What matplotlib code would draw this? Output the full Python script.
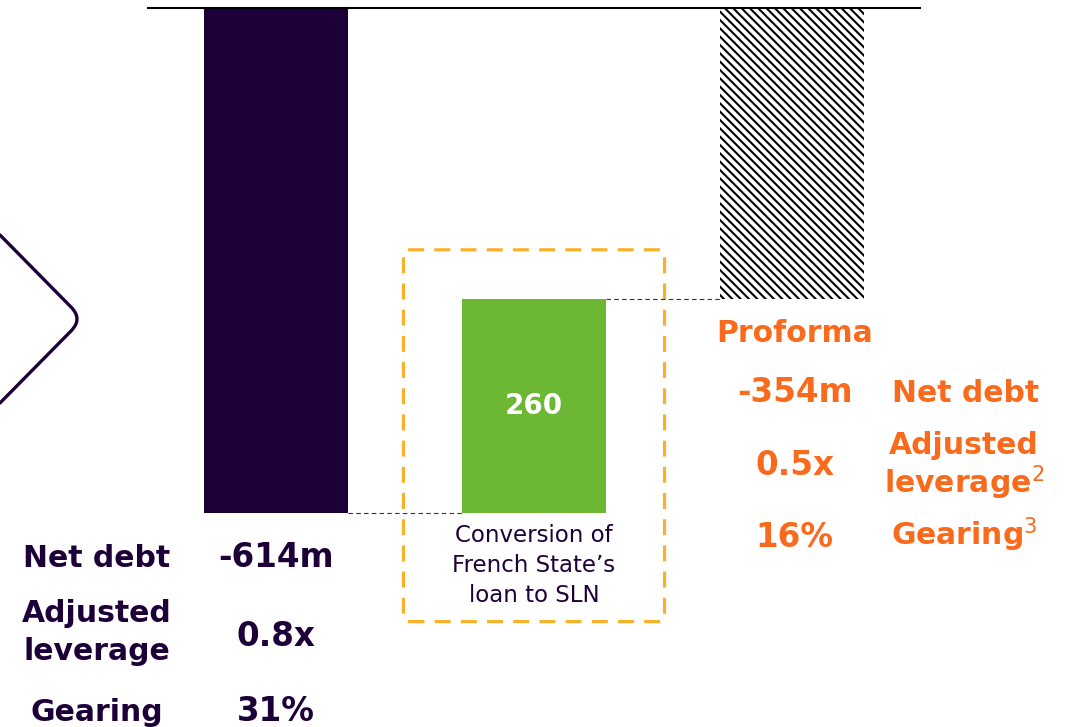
import matplotlib
matplotlib.use("Agg")
import matplotlib.pyplot as plt
from matplotlib.patches import FancyBboxPatch, PathPatch
from matplotlib.path import Path
from matplotlib.transforms import Affine2D, blended_transform_factory

W, H = 1068, 727

# waterfall (EUR m)
steps = [0, 1, 2]
step_names = ['Net debt', 'Conversion of\nFrench State\u2019s\nloan to SLN', 'Proforma']
net_debt_start = -614
conversion = 260
net_debt_proforma = -354

# side tables
left_labels = ['Net debt', 'Adjusted\nleverage', 'Gearing']
left_values = ['-614m', '0.8x', '31%']
right_labels = ['Net debt', 'Adjusted\nleverage$^{\\mathrm{2}}$', 'Gearing$^{\\mathrm{3}}$']
right_values = ['-354m', '0.5x', '16%']

DARK = '#1e0038'
GREEN = '#6cb733'
ORANGE = '#fa6a1c'
AMBER = '#fbb02a'

plt.rcParams['font.family'] = ['DejaVu Sans']
plt.rcParams['hatch.linewidth'] = 1.5

fig = plt.figure(figsize=(W / 100, H / 100), dpi=100)
ax = fig.add_axes([0, 0, 1, 1])
ax.set_xlim(-1.0698, 3.0698)
ax.set_ylim(-874.2, 9.73)
ax.axis('off')

# pixel transform (origin top-left) for layout of the text tables
px = Affine2D().scale(1 / W, -1 / H).translate(0, 1) + fig.transFigure
xdata_ypx = blended_transform_factory(ax.transData, px)

bw = 0.558
ax.bar(steps[0], net_debt_start, width=bw, color=DARK, linewidth=0)
ax.bar(steps[1], conversion, bottom=net_debt_start, width=bw, color=GREEN, linewidth=0)
ax.bar(steps[2], net_debt_proforma, width=bw, facecolor='white', edgecolor='black',
       hatch='\\\\\\\\', linewidth=0)

ax.hlines(0, -0.5, 2.5, color='black', lw=1.5)

# connectors
levels = [net_debt_start, net_debt_start + conversion]
for i, lvl in enumerate(levels):
    ax.plot([steps[i] + bw / 2, steps[i + 1] - bw / 2], [lvl, lvl],
            color='#333333', lw=0.8, ls=(0, (4, 3)))

# value in green bar
ax.text(steps[1], net_debt_start + conversion / 2, str(conversion), color='white',
        fontsize=20, fontweight='bold', ha='center', va='center')

# category label under green bar (baseline = last line)
ax.text(steps[1], 602, step_names[1], transform=xdata_ypx, color=DARK, fontsize=16.5,
        ha='center', va='baseline', linespacing=1.38)

# dashed highlight box around the conversion step
x_per_px = (ax.get_xlim()[1] - ax.get_xlim()[0]) / W
y_per_px = (ax.get_ylim()[1] - ax.get_ylim()[0]) / H
box = FancyBboxPatch((steps[1] - 0.506, -746), 1.012, 452,
                     boxstyle='round,pad=0,rounding_size=%f' % (5 * x_per_px),
                     mutation_aspect=y_per_px / x_per_px,
                     facecolor='none', edgecolor=AMBER, lw=2.3, ls=(0, (5, 3.2)))
ax.add_patch(box)

# chevron on the left
verts = [(0, 235), (71, 307), (83, 319), (71, 331), (0, 403)]
codes = [Path.MOVETO, Path.LINETO, Path.CURVE3, Path.CURVE3, Path.LINETO]
fig.add_artist(PathPatch(Path(verts, codes), transform=px, facecolor='none',
                         edgecolor=DARK, lw=2.4, capstyle='round'))

# left table
fs = 21.5
left_base = [567, 660, 721]
value_base = [567, 646, 721]
for lab, val, yb, yv in zip(left_labels, left_values, left_base, value_base):
    ax.text(97, yb, lab, transform=px, color=DARK, fontsize=fs, fontweight='bold',
            ha='center', va='baseline', linespacing=1.38)
    ax.text(steps[0], yv, val, transform=xdata_ypx, color=DARK, fontsize=fs + 2,
            fontweight='bold', ha='center', va='baseline')

# right table
ax.text(steps[2] + 0.01, 342, step_names[2], transform=xdata_ypx, color=ORANGE,
        fontsize=fs, fontweight='bold', ha='center', va='baseline')
right_base = [402, 493, 545]
rvalue_base = [402, 475, 547]
right_x = [966, 964, 964]
for lab, val, yb, yv, xl in zip(right_labels, right_values, right_base, rvalue_base, right_x):
    ax.text(xl, yb, lab, transform=px, color=ORANGE, fontsize=fs, fontweight='bold',
            ha='center', va='baseline', linespacing=1.12)
    ax.text(steps[2] + 0.01, yv, val, transform=xdata_ypx, color=ORANGE, fontsize=fs + 2,
            fontweight='bold', ha='center', va='baseline')

fig.savefig('out.png', dpi=100)
